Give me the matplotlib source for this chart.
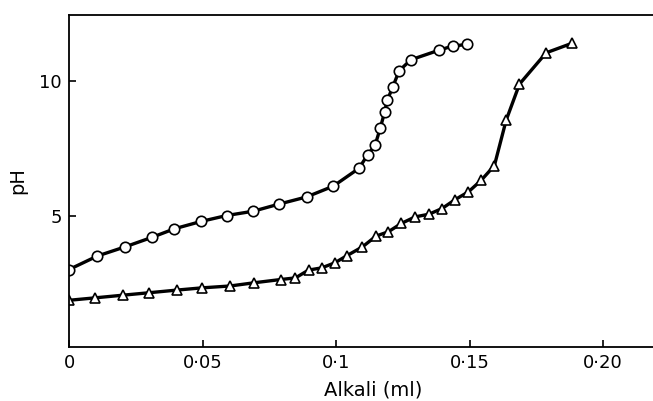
import numpy as np
import matplotlib.pyplot as plt

# circles (first titration)
x_circ = [0.0, 0.0106, 0.021, 0.031, 0.0395, 0.0494, 0.059, 0.069, 0.0785, 0.089,
          0.099, 0.1086, 0.1119, 0.1146, 0.1166, 0.1182, 0.1192, 0.1212, 0.1236,
          0.128, 0.1387, 0.1437, 0.1492]
y_circ = [3.01, 3.51, 3.85, 4.2, 4.52, 4.79, 5.01, 5.17, 5.43, 5.70,
          6.10, 6.76, 7.27, 7.61, 8.26, 8.85, 9.29, 9.76, 10.37,
          10.78, 11.14, 11.29, 11.35]

# triangles (second titration)
x_tri = [0.0, 0.0097, 0.0203, 0.030, 0.0406, 0.0497, 0.0603, 0.0694, 0.0793, 0.0848,
         0.0897, 0.0946, 0.0996, 0.104, 0.1099, 0.115, 0.1196, 0.1245, 0.1296,
         0.1348, 0.1397, 0.1446, 0.1496, 0.1543, 0.1593, 0.1637, 0.1687, 0.1787, 0.1883]
y_tri = [1.87, 1.96, 2.06, 2.15, 2.25, 2.33, 2.40, 2.52, 2.64, 2.70,
         2.99, 3.07, 3.26, 3.52, 3.85, 4.25, 4.41, 4.72, 4.96,
         5.06, 5.27, 5.60, 5.89, 6.31, 6.86, 8.54, 9.88, 11.04, 11.39]

x_ticks = [0, 0.05, 0.1, 0.15, 0.20]
x_labels = ["0", "0\u00b705", "0\u00b71", "0\u00b715", "0\u00b720"]
y_ticks = [5, 10]

fig = plt.figure(figsize=(6.53, 4.01), dpi=100)
ax = fig.add_axes([0.1057, 0.1347, 0.8943, 0.8286])

ax.plot(x_circ, y_circ, color="black", lw=2.4, marker="o", ms=7.5,
        mfc="white", mec="black", mew=1.2, solid_joinstyle="round")
ax.plot(x_tri, y_tri, color="black", lw=2.4, marker="^", ms=6.5,
        mfc="white", mec="black", mew=1.2, solid_joinstyle="round")

ax.set_xlim(0, 0.2187)
ax.set_ylim(0.14, 12.45)
ax.set_xticks(x_ticks)
ax.set_xticklabels(x_labels)
ax.set_yticks(y_ticks)
ax.tick_params(direction="in", length=5, width=1.2, labelsize=13, pad=5)

ax.spines["right"].set_visible(False)
for s in ["left", "top", "bottom"]:
    ax.spines[s].set_linewidth(1.3)

ax.set_xlabel("Alkali (ml)", fontsize=14)
ax.xaxis.set_label_coords(0.52, -0.1)
ax.set_ylabel("pH", fontsize=14)
ax.yaxis.set_label_coords(-0.072, 0.5)

fig.savefig("out.png", dpi=100)
